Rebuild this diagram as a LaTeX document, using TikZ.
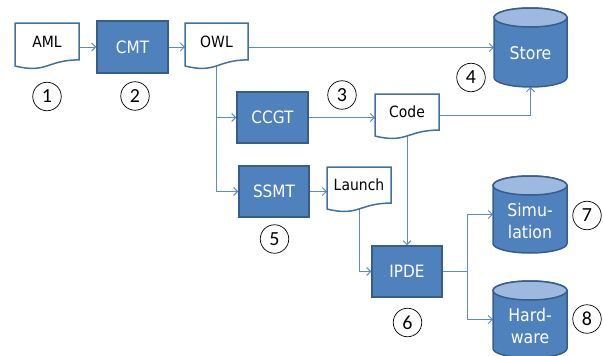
\documentclass[tikz,border=0pt]{standalone}
\usepackage{fontspec}
\setmainfont{DejaVu Sans}[FakeStretch=0.9]
\newfontfamily\numfont{Carlito}
\usetikzlibrary{arrows.meta,calc}
\definecolor{boxfill}{HTML}{4F81BD}
\definecolor{boxline}{HTML}{385D8A}
\definecolor{cyltop}{HTML}{9DB9DF}
\definecolor{conn}{HTML}{5B8BC9}
\definecolor{docline}{HTML}{41719C}
\pgfdeclarelayer{bg}
\pgfsetlayers{bg,main}
\tikzset{
  bluebox/.style={draw=boxline, fill=boxfill, line width=1.5pt, text=white,
    font=\fontsize{17}{20}\selectfont, inner sep=0pt},
  docoutline/.style={draw=docline, fill=white, line width=1.5pt},
  doctext/.style={font=\fontsize{15.5}{18}\selectfont, inner sep=0pt},
  cylshape/.style={draw=boxline, fill=boxfill, line width=1.5pt},
  cyltopshape/.style={draw=boxline, fill=cyltop, line width=1.5pt},
  cyltext/.style={text=white, align=center, font=\fontsize{17.5}{22}\selectfont, inner sep=0pt},
  numcircle/.style={circle, draw=black, line width=0.7pt, minimum size=28.5pt,
    inner sep=0pt, font=\numfont\fontsize{20}{22}\selectfont},
  conn/.style={draw=conn, line width=0.9pt, -{Straight Barb[length=4pt,width=8pt]}},
  plainconn/.style={draw=conn, line width=0.9pt},
}
% document shape: name, xl, yt, w, h, text
\newcommand\docshape[6]{%
  \path[docoutline] (#2,#3) -- ({#2+#4},#3) -- ({#2+#4},{#3+0.802*#5})
    .. controls ({#2+#4/2},{#3+0.802*#5}) and ({#2+#4/2},{#3+1.1075*#5}) ..
    (#2,{#3+0.934*#5}) -- cycle;
  \node[doctext, minimum width=#4, minimum height={0.8*#5}] (#1) at ({#2+#4/2},{#3+0.4*#5}) {#6};
}
% cylinder: name, cx, cy, w, h, text
\newcommand\cylshape[6]{%
  \path[cylshape] ({#2-#4/2},{#3-#5/2+9.5}) -- ({#2-#4/2},{#3+#5/2-9.5})
    arc[start angle=180, end angle=0, x radius={#4/2}, y radius=9.5]
    -- ({#2+#4/2},{#3-#5/2+9.5})
    arc[start angle=0, end angle=-180, x radius={#4/2}, y radius=9.5] -- cycle;
  \path[cyltopshape] (#2,{#3-#5/2+9.5}) ellipse[x radius={#4/2}, y radius=9.5];
  \node[minimum width=#4, minimum height=#5, inner sep=0pt] (#1) at (#2,#3) {};
  \node[cyltext] (#1t) at (#2,{#3+6}) {#6};
}
\begin{document}
\begin{tikzpicture}[x=1pt,y=-1pt]
\useasboundingbox (0,0) rectangle (603,356);
% documents
\docshape{aml}{15}{23}{64}{46}{AML}
\docshape{owl}{185}{23}{63}{46}{OWL}
\docshape{code}{375}{94}{64}{45}{Code}
\docshape{launch}{327}{167}{64}{45}{Launch}
% process boxes
\node[bluebox, minimum width=71, minimum height=52] (cmt) at (132.5,47) {CMT};
\node[bluebox, minimum width=71, minimum height=51] (ccgt) at (272.5,117.5) {CCGT};
\node[bluebox, minimum width=70, minimum height=51] (ssmt) at (274,191.5) {SSMT};
\node[bluebox, minimum width=70, minimum height=51] (ipde) at (407,271.5) {IPDE};
% cylinders
\cylshape{store}{530.5}{47.5}{73}{79}{Store}
\cylshape{sim}{530}{214.5}{74}{77}{Simu-\\lation}
\cylshape{hw}{530}{319.5}{74}{77}{Hard-\\ware}
% numbers
\node[numcircle] (n1) at (47,96.5) {1};
\node[numcircle] (n2) at (135,96) {2};
\node[numcircle] (n3) at (342,95) {3};
\node[numcircle] (n4) at (471,77.5) {4};
\node[numcircle] (n5) at (274.5,239) {5};
\node[numcircle] (n6) at (407.5,322.5) {6};
\node[numcircle] (n7) at (587,215.5) {7};
\node[numcircle] (n8) at (587,319) {8};
% connectors
\begin{pgfonlayer}{bg}
\draw[conn] (aml.east |- cmt.west) -- (cmt.west);
\draw[conn] (cmt.east) -- (cmt.east -| owl.west);
\draw[conn] (owl.east |- store.west) -- (store.west);
\draw[conn] (owl.south) |- (ssmt.west);
\draw[conn] (owl.south |- ccgt.west) -- (ccgt.west);
\draw[conn] (ccgt.east) -- (ccgt.east -| code.west);
\draw[conn] ([yshift=-3.5pt]code.east) -| (store.south);
\draw[conn] (code.south) -- (code.south |- ipde.north);
\draw[conn] (ssmt.east) -- (ssmt.east -| launch.west);
\draw[conn] (launch.south) |- (ipde.west);
\coordinate (split) at ($(ipde.east)+(25,0)$);
\draw[plainconn] (ipde.east) -- (split);
\draw[conn] (split) |- (sim.west);
\draw[conn] (split) |- (hw.west);
\end{pgfonlayer}
\end{tikzpicture}
\end{document}
